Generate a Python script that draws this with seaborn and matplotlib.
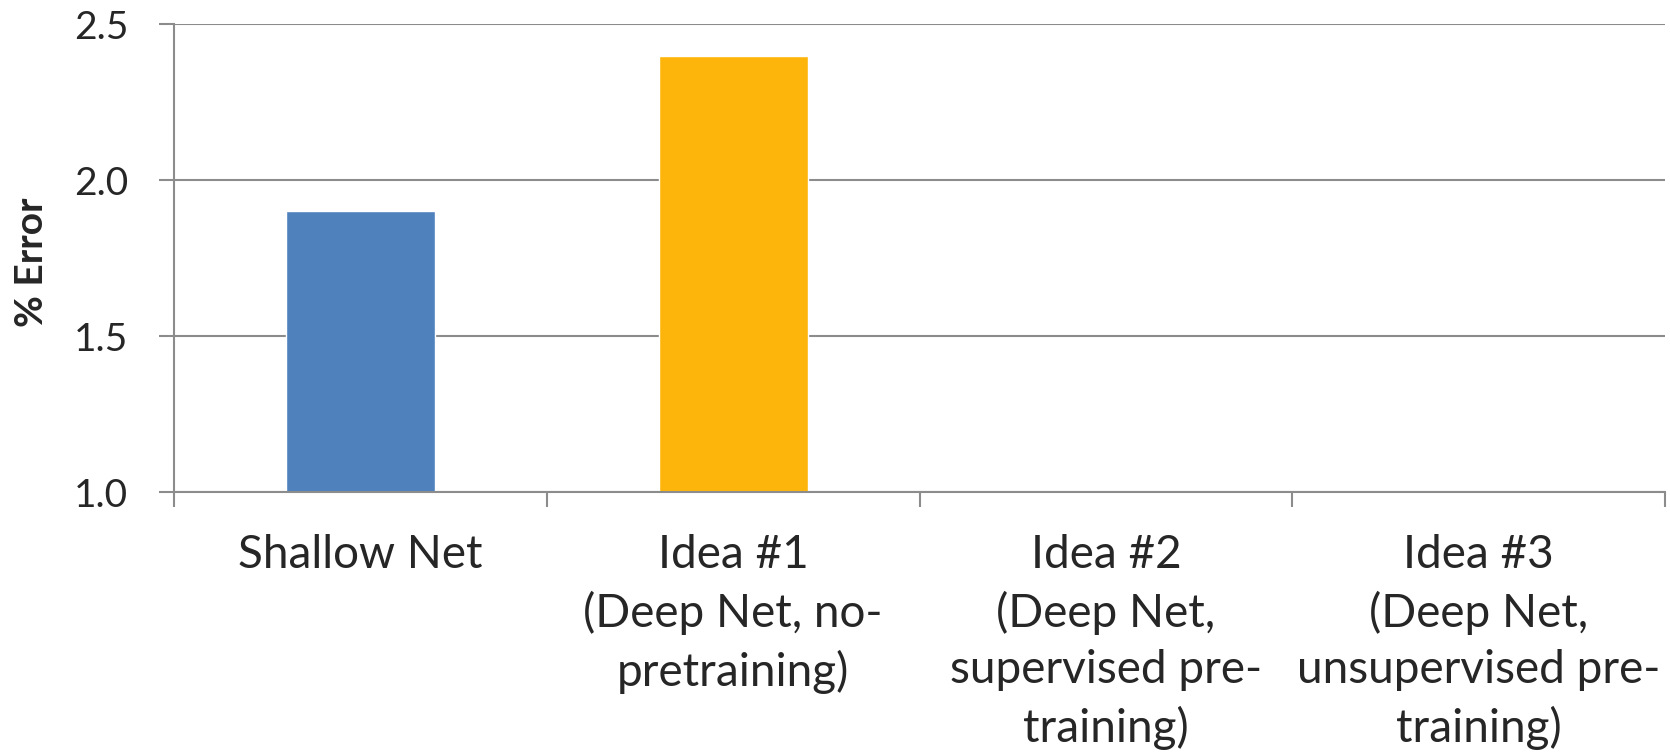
import matplotlib
matplotlib.use("Agg")
import matplotlib.pyplot as plt
import seaborn as sns
import pandas as pd
import numpy as np
from matplotlib.ticker import FixedLocator, NullFormatter

# Error rates per model variant (Ideas #2 and #3 not yet measured)
categories = [
    "Shallow Net",
    "Idea #1\n(Deep Net, no-\npretraining)",
    "Idea #2\n(Deep Net,\nsupervised pre-\ntraining)",
    "Idea #3\n(Deep Net,\nunsupervised pre-\ntraining)",
]
error_pct = [1.9, 2.4, np.nan, np.nan]
bar_colors = ["#4F81BD", "#FDB50B", "#4F81BD", "#4F81BD"]
y_ticks = [1.0, 1.5, 2.0, 2.5]
y_tick_labels = ["1.0", "1.5", "2.0", "2.5"]

sns.set_theme(style="white")
plt.rcParams["font.family"] = ["Lato", "DejaVu Sans"]

df = pd.DataFrame({"model": categories, "error": error_pct})

fig = plt.figure(figsize=(16.7, 7.53), dpi=100)
ax = fig.add_axes([0.1042, 0.3466, 0.8928, 0.6209])

sns.barplot(data=df, x="model", y="error", hue="model", order=categories,
            hue_order=categories, palette=bar_colors, width=0.4,
            saturation=1, legend=False, ax=ax)

grid_color = "#8C8C8C"
ax.set_ylim(1.0, 2.5)
ax.set_xlim(-0.5, len(categories) - 0.5)
ax.set_yticks(y_ticks)
ax.set_yticklabels(y_tick_labels)
ax.yaxis.grid(True, color=grid_color, linewidth=1.5, zorder=0)
ax.set_axisbelow(True)

# Category labels centred under bars; tick marks between categories
ax.set_xticks(range(len(categories)))
ax.set_xticklabels(categories, linespacing=1.41)
ax.xaxis.set_minor_locator(FixedLocator(np.arange(-0.5, len(categories), 1.0)))
ax.xaxis.set_minor_formatter(NullFormatter())
ax.tick_params(axis="x", which="major", length=0, pad=30, labelsize=33)
ax.tick_params(axis="x", which="minor", length=11, width=1.5,
               color=grid_color, bottom=True)
ax.tick_params(axis="y", which="major", length=11, width=1.5,
               color=grid_color, left=True, pad=22, labelsize=28)

for side in ["top", "right"]:
    ax.spines[side].set_visible(False)
for side in ["left", "bottom"]:
    ax.spines[side].set_visible(True)
    ax.spines[side].set_color(grid_color)
    ax.spines[side].set_linewidth(1.5)

ax.set_xlabel("")
ax.set_ylabel("% Error", fontsize=28, fontweight="bold")
ax.yaxis.set_label_coords(-0.0836, 0.492)

fig.savefig("out.png", dpi=100, facecolor="white")
